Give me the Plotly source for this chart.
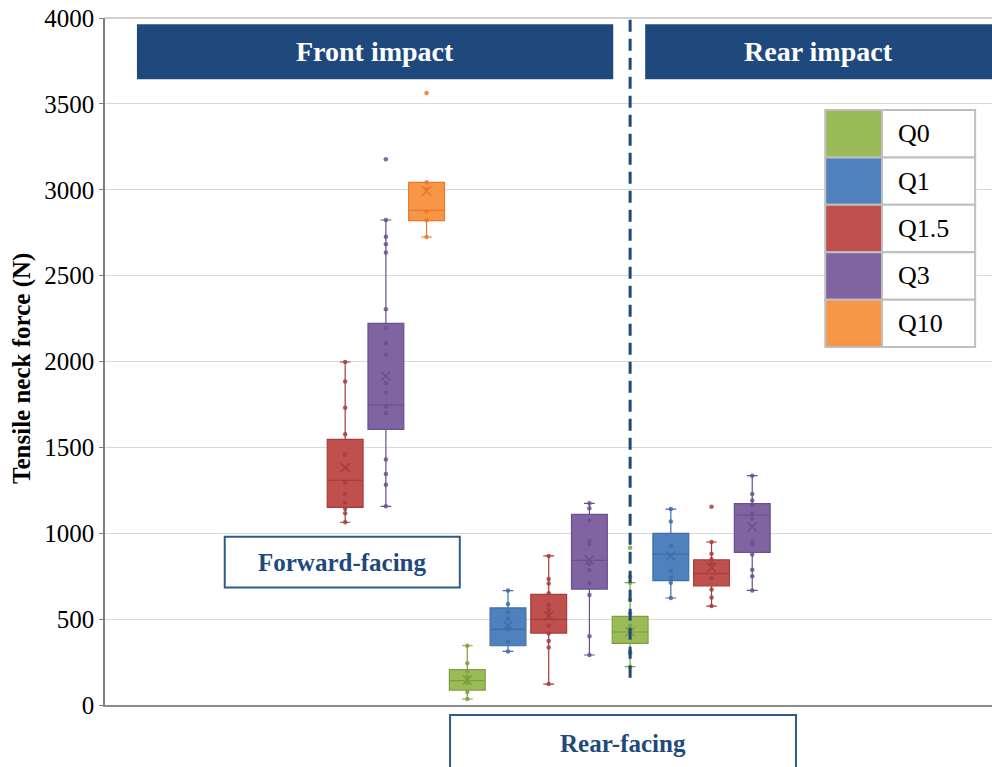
import plotly.graph_objects as go

# ---------------- data ----------------
groups = ["FF Q1.5", "FF Q3", "FF Q10", "RF Q0", "RF Q1", "RF Q1.5", "RF Q3",
          "RI Q0", "RI Q1", "RI Q1.5", "RI Q3"]
dummy = ["Q1.5", "Q3", "Q10", "Q0", "Q1", "Q1.5", "Q3", "Q0", "Q1", "Q1.5", "Q3"]

q1_vals = [1151, 1605, 2820, 87, 345, 419, 675, 359, 724, 694, 889]
median_vals = [1308, 1747, 2880, 142, 440, 498, 842, 425, 879, 765, 1106]
q3_vals = [1547, 2222, 3043, 206, 565, 644, 1110, 516, 999, 845, 1173]
lower_vals = [1064, 1157, 2725, 35, 312, 122, 291, 223, 623, 576, 667]
upper_vals = [1997, 2824, 3043, 345, 666, 868, 1174, 712, 1141, 949, 1335]
mean_vals = [1382, 1916, 2993, 146, 464, 518, 844, 426, 868, 801, 1038]

pts_ff_q15 = [1997, 1883, 1731, 1576, 1459, 1296, 1230, 1178, 1143, 1116, 1064]
pts_ff_q3 = [3177, 2824, 2727, 2682, 2635, 2304, 2193, 2108, 2040, 1873, 1819,
             1737, 1700, 1430, 1345, 1283, 1157]
pts_ff_q10 = [3563, 3043, 3003, 2874, 2822, 2725]
pts_rf_q0 = [345, 243, 198, 165, 142, 126, 76, 35]
pts_rf_q1 = [666, 588, 540, 502, 440, 367, 312]
pts_rf_q15 = [868, 734, 708, 650, 582, 555, 534, 462, 417, 373, 335, 122]
pts_rf_q3 = [1174, 1145, 1075, 957, 936, 821, 786, 711, 640, 400, 291]
pts_ri_q0 = [916, 747, 712, 611, 534, 462, 425, 310, 301, 223]
pts_ri_q1 = [1141, 1069, 926, 782, 741, 712, 623]
pts_ri_q15 = [1155, 949, 881, 848, 824, 738, 673, 626, 576]
pts_ri_q3 = [1335, 1229, 1190, 1165, 1114, 1086, 951, 935, 877, 788, 749, 667]
points = [pts_ff_q15, pts_ff_q3, pts_ff_q10, pts_rf_q0, pts_rf_q1, pts_rf_q15,
          pts_rf_q3, pts_ri_q0, pts_ri_q1, pts_ri_q15, pts_ri_q3]

legend_labels = ["Q0", "Q1", "Q1.5", "Q3", "Q10"]
y_ticks = [0, 500, 1000, 1500, 2000, 2500, 3000, 3500, 4000]

# ---------------- styles ----------------
fill = {"Q0": "#9BBB59", "Q1": "#4F81BD", "Q1.5": "#C0504D", "Q3": "#8064A2", "Q10": "#F79646"}
edge = {"Q0": "#7F9F3E", "Q1": "#3F6EA8", "Q1.5": "#A43E3B", "Q3": "#6A5090", "Q10": "#E8792A"}
NAVY = "#1F497D"
SERIF = "Liberation Serif, Times New Roman, serif"

fig = go.Figure()

for i, g in enumerate(groups):
    q = dummy[i]
    fig.add_trace(go.Box(
        x=[g], q1=[q1_vals[i]], median=[median_vals[i]], q3=[q3_vals[i]],
        lowerfence=[lower_vals[i]], upperfence=[upper_vals[i]],
        fillcolor=fill[q], line=dict(color=edge[q], width=1.2),
        width=0.88, whiskerwidth=0.3, boxpoints=False, showlegend=False,
        hoverinfo="skip"))
    fig.add_trace(go.Scatter(
        x=[g] * len(points[i]), y=points[i], mode="markers",
        marker=dict(size=4.5, color=edge[q], opacity=0.85),
        showlegend=False, hoverinfo="skip"))
    fig.add_trace(go.Scatter(
        x=[g], y=[mean_vals[i]], mode="markers",
        marker=dict(symbol="x-thin", size=9, line=dict(width=1.5, color=edge[q])),
        showlegend=False, hoverinfo="skip"))

# dashed separator between front and rear impact
fig.add_trace(go.Scatter(
    x=[groups[7], groups[7]], y=[3990, 120], mode="lines",
    line=dict(color=NAVY, width=3, dash="12px,7px"),
    showlegend=False, hoverinfo="skip"))

shapes = []
annotations = []


def label(x, y, text, size, color, xanchor="center", angle=0):
    annotations.append(dict(xref="paper", yref="paper", x=x, y=y, text=text,
                            xanchor=xanchor, yanchor="middle", textangle=angle,
                            showarrow=False,
                            font=dict(family=SERIF, size=size, color=color)))


# banners
for x0, x1, txt in [(0.036, 0.573, "Front impact"), (0.609, 1.02, "Rear impact")]:
    shapes.append(dict(type="rect", xref="paper", yref="paper", x0=x0, x1=x1,
                       y0=0.911, y1=0.991, fillcolor=NAVY, line=dict(width=0),
                       layer="above"))
    cx = (x0 + min(x1, 1.0)) / 2
    label(cx, 0.951, "<b>%s</b>" % txt, 28, "white")

# facing labels
shapes.append(dict(type="rect", xref="paper", yref="paper", x0=0.135, x1=0.400,
                   y0=0.171, y1=0.245, fillcolor="white",
                   line=dict(color="#2E5A8C", width=2), layer="above"))
label(0.2675, 0.208, "<b>Forward-facing</b>", 25, NAVY)
shapes.append(dict(type="rect", xref="paper", yref="paper", x0=0.389, x1=0.779,
                   y0=-0.2, y1=-0.0146, fillcolor="white",
                   line=dict(color="#2E5A8C", width=2), layer="above"))
label(0.584, -0.056, "<b>Rear-facing</b>", 25, NAVY)

# custom legend table
lx0, lxs, lx1 = 0.812, 0.876, 0.981
ly_top, row_h = 0.866, 0.069
for k, lab in enumerate(legend_labels):
    yt = ly_top - k * row_h
    yb = yt - row_h
    shapes.append(dict(type="rect", xref="paper", yref="paper", x0=lx0, x1=lxs,
                       y0=yb, y1=yt, fillcolor=fill[lab],
                       line=dict(color="#BFBFBF", width=2), layer="above"))
    shapes.append(dict(type="rect", xref="paper", yref="paper", x0=lxs, x1=lx1,
                       y0=yb, y1=yt, fillcolor="white",
                       line=dict(color="#BFBFBF", width=2), layer="above"))
    label(lxs + 0.016, (yt + yb) / 2, lab, 26, "black", xanchor="left")

# y-axis title
label(-0.093, 0.49, "<b>Tensile neck force (N)</b>", 25, "black", angle=-90)

# top border line of plot area (4000 level)
shapes.append(dict(type="line", xref="paper", yref="paper", x0=0, x1=1, y0=1, y1=1,
                   line=dict(color="#BFBFBF", width=1.5)))

fig.update_layout(
    width=992, height=767,
    margin=dict(l=105, r=0, t=18, b=62, autoexpand=False),
    paper_bgcolor="white", plot_bgcolor="white",
    shapes=shapes, annotations=annotations,
    xaxis=dict(type="category", categoryorder="array", categoryarray=groups,
               range=[-5.9, 15.89], showticklabels=False, showgrid=False,
               zeroline=False, showline=True, linecolor="#8C8C8C", linewidth=2,
               ticks="", automargin=False),
    yaxis=dict(range=[0, 4000], tickvals=y_ticks, showgrid=True,
               gridcolor="#D9D9D9", gridwidth=1, zeroline=False,
               showline=True, linecolor="#7F7F7F", linewidth=1.5,
               ticks="outside", ticklen=4, tickcolor="#7F7F7F", automargin=False,
               ticklabeloverflow="allow",
               tickfont=dict(family=SERIF, size=25, color="black")),
)

# remove the default 8px page margin so the figure fills the window exactly
fig.write_html("out.html", config={"displayModeBar": False},
               post_script="document.body.style.margin='0';document.body.style.overflow='hidden';")
